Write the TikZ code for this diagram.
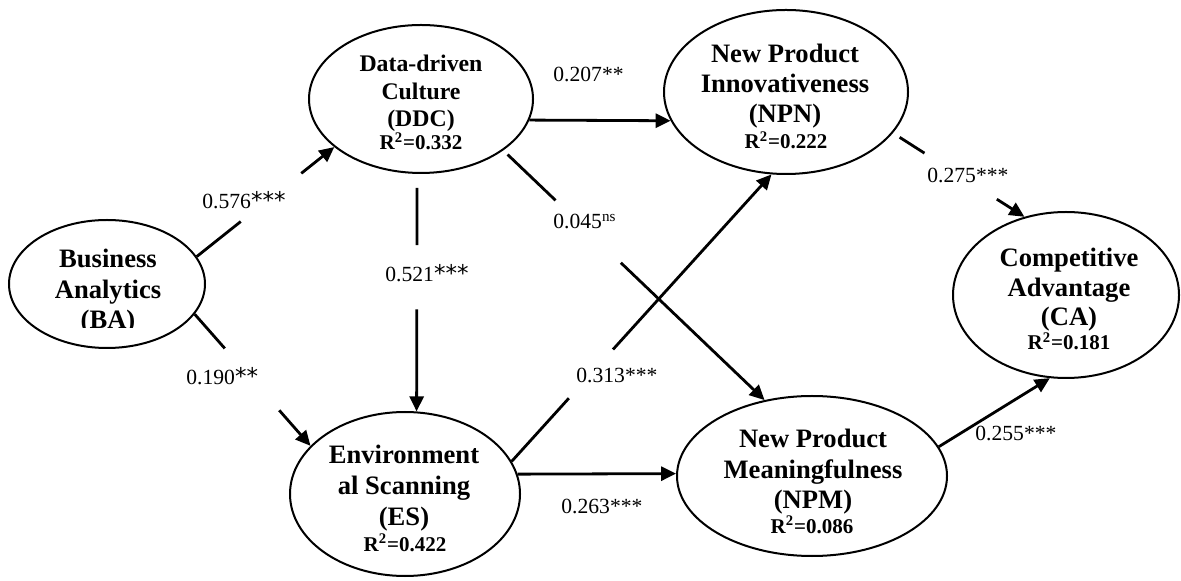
\documentclass[tikz,border=0pt]{standalone}
\usepackage{fontspec}
\setmainfont{Liberation Serif}
\newfontfamily\astfont{DejaVu Sans}
\usetikzlibrary{shapes.geometric,arrows.meta,calc}
\newcommand\bigast[1]{{\astfont\fontsize{11.5}{12}\selectfont #1}}
\tikzset{
  ell/.style={draw, ellipse, line width=1pt, inner sep=0pt},
  nametext/.style 2 args={inner sep=0pt, align=center, anchor=north,
    font=\bfseries\fontsize{#1}{#2}\selectfont},
  rtext/.style={inner sep=0pt, anchor=base, font=\bfseries\fontsize{10.5}{12}\selectfont},
  lab/.style={inner sep=0pt, anchor=base west, font=\fontsize{10.8}{13}\selectfont},
  conn/.style={line width=1.4pt},
  arr/.style={conn, -{Triangle[length=7.5pt,width=7pt]}}
}
\begin{document}
\begin{tikzpicture}[x=0.5pt,y=-0.5pt]
\useasboundingbox (0,0) rectangle (1181,581);

% ellipses
\node[ell, minimum width=98pt,  minimum height=64pt] (BA)  at (107,284) {};
\node[ell, minimum width=112pt, minimum height=74pt] (DDC) at (421,99) {};
\node[ell, minimum width=122pt, minimum height=82pt] (NPN) at (786,92) {};
\node[ell, minimum width=113pt, minimum height=83pt] (CA)  at (1066,295) {};
\node[ell, minimum width=115pt, minimum height=82pt] (ES)  at (405,494) {};
\node[ell, minimum width=135pt, minimum height=80pt] (NPM) at (812,476) {};

% texts
\begin{scope}
  \clip (0,200) rectangle (300,328);
  \node[nametext={13.3}{15.25}] (BAt) at (108,249) {Business\\Analytics\\(BA)};
\end{scope}
\node[nametext={11.9}{13.75}] (DDCt) at (421,55) {Data-driven\\Culture\\(DDC)};
\node[rtext] (DDCr) at (421,150) {R\textsuperscript{2}=0.332};
\node[nametext={13.3}{15}] (NPNt) at (785,44) {New Product\\Innovativeness\\(NPN)};
\node[rtext] (NPNr) at (786,149) {R\textsuperscript{2}=0.222};
\node[nametext={13.3}{14.75}] (CAt) at (1069,248) {Competitive\\Advantage\\(CA)};
\node[rtext] (CAr) at (1069,350) {R\textsuperscript{2}=0.181};
\node[nametext={13.3}{15.5}] (ESt) at (404,445) {Environment\\al Scanning\\(ES)};
\node[rtext] (ESr) at (405,551) {R\textsuperscript{2}=0.422};
\node[nametext={13.3}{15.25}] (NPMt) at (813,429) {New Product\\Meaningfulness\\(NPM)};
\node[rtext] (NPMr) at (812,533) {R\textsuperscript{2}=0.086};

% connectors
\draw[conn] (BA.17) -- ($(BA.17)!0.32!(DDC.209)$);
\draw[arr] ($(BA.17)!0.76!(DDC.209)$) -- (DDC.209);

\draw[conn, shorten <=7pt] (DDC.267) -- ($(DDC.267)!0.30!(ES.82)$);
\draw[arr] ($(DDC.267)!0.57!(ES.82)$) -- (ES.82);

\draw[arr] (DDC.349) -- (NPN.194);

\draw[conn, shorten <=3pt] (DDC.328) -- ($(DDC.328)!0.20!(NPM.122)$);
\draw[arr] ($(DDC.328)!0.45!(NPM.122)$) -- (NPM.122);

\draw[conn] (BA.341) -- ($(BA.341)!0.26!(ES.153)$);
\draw[arr] ($(BA.341)!0.73!(ES.153)$) -- (ES.153);

\draw[conn] (ES.17) -- ($(ES.17)!0.22!(NPN.260)$);
\draw[arr] ($(ES.17)!0.39!(NPN.260)$) -- (NPN.260);

\draw[arr] (ES.10) -- (NPM.179);

\draw[conn, shorten <=4pt] (NPN.339) -- ($(NPN.339)!0.24!(CA.118)$);
\draw[arr] ($(NPN.339)!0.79!(CA.118)$) -- (CA.118);

\draw[arr] (NPM.13) -- (CA.259);

% labels
\node[lab] (l1) at (553,82)  {0.207**};
\node[lab] (l2) at (202,209) {0.576\bigast{***}};
\node[lab] (l3) at (553,229) {0.045\textsuperscript{ns}};
\node[lab] (l4) at (385,282) {0.521\bigast{***}};
\node[lab] (l5) at (927,183) {0.275***};
\node[lab] (l6) at (186,385) {0.190\bigast{**}};
\node[lab] (l7) at (576,383) {0.313***};
\node[lab] (l8) at (561,514) {0.263***};
\node[lab] (l9) at (975,441) {0.255***};
\end{tikzpicture}
\end{document}
